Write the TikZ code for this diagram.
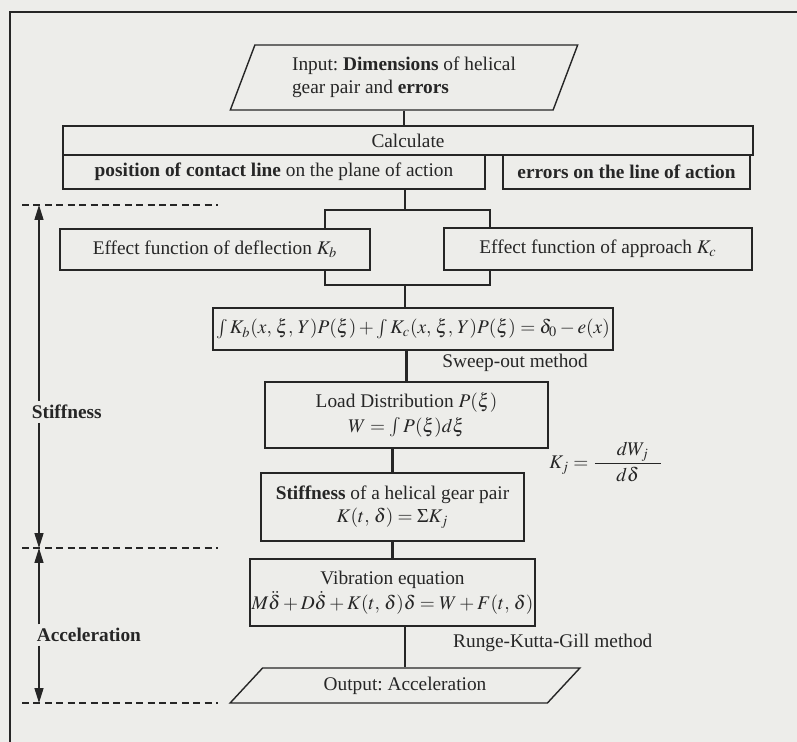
\documentclass[tikz,border=0pt]{standalone}
\usepackage{amsmath}
\usepackage{mathptmx}
\usepackage[no-math]{fontspec}
\setmainfont{Liberation Serif}
\usetikzlibrary{arrows.meta,shapes.geometric}
\definecolor{Paper}{HTML}{EDEDEA}
\definecolor{Ink}{HTML}{262626}
\frenchspacing

\begin{document}
\begin{tikzpicture}[x=0.02cm,y=-0.02cm,
  font=\fontsize{11}{13}\selectfont, text=Ink,
  boxsize/.style 2 args={minimum width=#1*0.02cm,minimum height=#2*0.02cm},
  box/.style={draw=Ink,line width=0.8pt,fill=Paper,inner sep=1pt,align=center},
  slant/.style={box,trapezium,trapezium stretches=true},
  link/.style={draw=Ink,line width=1.3pt},
  guide/.style={draw=Ink,line width=1pt,dash pattern=on 4pt off 2.5pt},
  arr/.style={draw=Ink,line width=0.8pt,-{Triangle[length=3mm,width=1.8mm]}}]
  \fill[Paper] (0,0) rectangle (797,742);
  \useasboundingbox (0,0) rectangle (797,742);
  \draw[Ink,line width=1pt] (10,742) -- (10,12) -- (797,12);

  \node[slant,trapezium left angle=67,trapezium right angle=113,boxsize={348}{65},align=left] (input) at (404,77.5)
    {Input: \textbf{Dimensions} of helical\hspace{1.2em}\\gear pair and \textbf{errors}};
  \node[box,boxsize={690}{29}] (calc) at (408,140.5) {Calculate};
  \node[box,boxsize={422}{34}] (pos) at (274,172) {\textbf{position of contact line} on the plane of action};
  \node[box,boxsize={247}{34}] (err) at (626.5,172) {\textbf{errors on the line of action}};
  \node[box,boxsize={310}{41}] (kb) at (215,249.5) {Effect function of deflection $K_b$};
  \node[box,boxsize={308}{42}] (kc) at (598,249) {Effect function of approach $K_c$};
  \node[box,boxsize={400}{42}] (integ) at (413,329)
    {$\int K_b(x,\,\xi,\,Y)P(\xi) + \int K_c(x,\,\xi,\,Y)P(\xi) = \delta_0 - e(x)$};
  \node[box,boxsize={283}{66}] (load) at (406.5,415) {Load Distribution $P(\xi)$\\[1pt]$W = \int P(\xi)d\xi$};
  \node[box,boxsize={263}{68}] (stiffb) at (392.5,507) {\textbf{Stiffness} of a helical gear pair\\$K(t,\,\delta) = \Sigma K_j$};
  \node[box,boxsize={265}{67}] (vib) at (392.5,592.5)
    {Vibration equation\\[1pt]$M\ddot{\delta} + D\dot{\delta} + K(t,\,\delta)\delta = W + F(t,\,\delta)$};
  \node[slant,trapezium left angle=48,trapezium right angle=132,boxsize={350}{35}] (output) at (405,685.5) {Output: Acceleration};

  \node[anchor=east] (sweep) at (594,363) {Sweep-out method};
  \node[anchor=west] (rkg) at (447,643) {Runge-Kutta-Gill method};
  \node (kj) at (606,462) {$K_j = \dfrac{\makebox[3.4em]{\hfill$dW_j$\hspace{0.6em}}}{d\delta}$};

  \coordinate (jt) at (405,210);
  \coordinate (jb) at (405,285);
  \coordinate (bl) at (325,210);
  \coordinate (br) at (490,210);
  \coordinate (cl) at (325,285);
  \coordinate (cr) at (490,285);
  \draw[link] (input.south) -- (input.south |- calc.north);
  \draw[link] (jt |- pos.south) -- (jt);
  \draw[link] (bl |- kb.north) -- (bl) -- (br) -- (br |- kc.north);
  \draw[link] (cl |- kb.south) -- (cl) -- (cr) -- (cr |- kc.south);
  \draw[link] (jb) -- (jb |- integ.north);
  \draw[link] (load.north |- integ.south) -- (load.north);
  \draw[link] (stiffb.north |- load.south) -- (stiffb.north);
  \draw[link] (vib.north |- stiffb.south) -- (vib.north);
  \draw[link] (output.north |- vib.south) -- (output.north);

  \foreach \y/\n in {205/d1,548/d2,703/d3}
    \draw[guide] (22,\y) coordinate (\n) -- (218,\y);
  \coordinate (ax) at (39,0);
  \node[anchor=west,inner sep=2pt,font=\fontsize{11}{13}\selectfont\bfseries] (stiff) at (28,412) {Stiffness};
  \node[anchor=west,inner sep=2pt,font=\fontsize{11}{13}\selectfont\bfseries] (acc) at (33,635) {Acceleration};
  \draw[arr] (stiff.north -| ax) -- (d1 -| ax);
  \draw[arr] (stiff.south -| ax) -- (d2 -| ax);
  \draw[arr] (acc.north -| ax) -- (d2 -| ax);
  \draw[arr] (acc.south -| ax) -- (d3 -| ax);
\end{tikzpicture}
\end{document}
